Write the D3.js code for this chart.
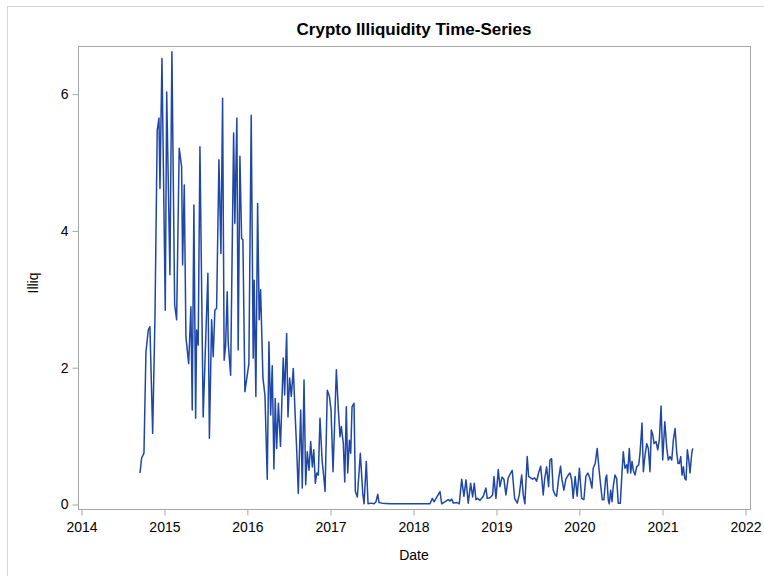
<!DOCTYPE html>
<html>
<head>
<meta charset="utf-8">
<script src="https://cdn.jsdelivr.net/npm/d3@7"></script>
<style>
  html, body { margin: 0; padding: 0; background: #ffffff; }
  svg { display: block; }
  text { font-family: "Liberation Sans", Arial, sans-serif; fill: #000; }
</style>
</head>
<body>
<svg id="chart" width="764" height="576"></svg>
<script>
// Observation dates as decimal years
const dateYears = [
  2014.705, 2014.725, 2014.753, 2014.777, 2014.805, 2014.825, 2014.858, 2014.886, 2014.913, 2014.934,
  2014.946, 2014.970, 2015.010, 2015.027, 2015.066, 2015.090, 2015.123, 2015.147, 2015.178, 2015.207,
  2015.219, 2015.239, 2015.259, 2015.292, 2015.319, 2015.335, 2015.355, 2015.376, 2015.388, 2015.407,
  2015.428, 2015.467, 2015.492, 2015.524, 2015.542, 2015.569, 2015.588, 2015.608, 2015.629, 2015.657,
  2015.681, 2015.701, 2015.720, 2015.737, 2015.757, 2015.769, 2015.798, 2015.834, 2015.849, 2015.873,
  2015.889, 2015.910, 2015.930, 2015.946, 2015.970, 2016.002, 2016.018, 2016.046, 2016.070, 2016.082,
  2016.102, 2016.123, 2016.142, 2016.159, 2016.187, 2016.211, 2016.239, 2016.259, 2016.280, 2016.299,
  2016.319, 2016.335, 2016.352, 2016.373, 2016.398, 2016.431, 2016.448, 2016.472, 2016.488, 2016.508,
  2016.528, 2016.552, 2016.572, 2016.593, 2016.612, 2016.641, 2016.660, 2016.681, 2016.701, 2016.720,
  2016.741, 2016.761, 2016.781, 2016.798, 2016.817, 2016.834, 2016.853, 2016.873, 2016.898, 2016.922,
  2016.934, 2016.961, 2016.986, 2017.006, 2017.030, 2017.070, 2017.094, 2017.114, 2017.130, 2017.154,
  2017.171, 2017.190, 2017.207, 2017.227, 2017.243, 2017.259, 2017.283, 2017.299, 2017.323, 2017.359,
  2017.388, 2017.404, 2017.431, 2017.452, 2017.488, 2017.524, 2017.548, 2017.569, 2017.584, 2017.620,
  2017.717, 2017.837, 2017.958, 2018.078, 2018.199,
  2018.227, 2018.247, 2018.319, 2018.340, 2018.419, 2018.440, 2018.460, 2018.480, 2018.520, 2018.552,
  2018.581, 2018.608, 2018.633, 2018.660, 2018.689, 2018.713, 2018.733, 2018.753, 2018.773, 2018.801,
  2018.841, 2018.873, 2018.889, 2018.922, 2018.954, 2018.970, 2018.994, 2019.022, 2019.042, 2019.066,
  2019.090, 2019.114, 2019.142, 2019.171, 2019.190, 2019.219, 2019.251, 2019.275, 2019.304, 2019.323,
  2019.343, 2019.371, 2019.388, 2019.412, 2019.436, 2019.460, 2019.484, 2019.508, 2019.533, 2019.548,
  2019.564, 2019.581, 2019.605, 2019.629, 2019.645, 2019.665, 2019.684, 2019.708, 2019.725, 2019.749,
  2019.773, 2019.789, 2019.813, 2019.837, 2019.865, 2019.886, 2019.906, 2019.925, 2019.949, 2019.973,
  2020.000, 2020.027, 2020.054, 2020.078, 2020.102, 2020.127, 2020.151, 2020.166, 2020.190, 2020.214,
  2020.235, 2020.255, 2020.275, 2020.295, 2020.316, 2020.328, 2020.347, 2020.359, 2020.376, 2020.392,
  2020.407, 2020.428, 2020.448, 2020.467, 2020.492, 2020.512, 2020.528, 2020.548, 2020.569, 2020.581,
  2020.600, 2020.617, 2020.633, 2020.648, 2020.669, 2020.689, 2020.713, 2020.729, 2020.753, 2020.769,
  2020.789, 2020.810, 2020.829, 2020.849, 2020.865, 2020.882, 2020.898, 2020.922, 2020.942, 2020.961,
  2020.982, 2021.002, 2021.027, 2021.051, 2021.070, 2021.090, 2021.111, 2021.130, 2021.151, 2021.171,
  2021.187, 2021.202, 2021.219, 2021.235, 2021.251, 2021.267, 2021.283, 2021.299, 2021.316, 2021.331,
  2021.352, 2021.364
];

// Illiquidity measure at each date
const illiq = [
  0.46, 0.68, 0.75, 2.23, 2.55, 2.60, 1.04, 2.75, 5.47, 5.65,
  4.62, 6.52, 2.84, 6.03, 3.36, 6.62, 2.92, 2.70, 5.21, 4.94,
  3.50, 4.67, 2.45, 2.06, 2.89, 1.38, 4.38, 1.26, 2.55, 2.33,
  5.23, 1.28, 2.21, 3.38, 0.97, 2.70, 2.16, 2.84, 2.87, 5.04,
  3.67, 5.94, 2.11, 2.31, 3.11, 2.36, 1.89, 5.43, 4.11, 5.65,
  2.26, 5.09, 3.89, 3.87, 1.65, 1.92, 2.06, 5.69, 2.14, 3.28,
  1.58, 4.40, 2.70, 3.14, 1.85, 1.60, 0.37, 2.38, 1.31, 2.03,
  0.52, 1.55, 0.82, 1.48, 0.85, 2.14, 1.60, 2.50, 1.28, 1.85,
  1.58, 1.99, 1.38, 0.80, 0.16, 1.38, 0.24, 1.82, 0.29, 0.77,
  0.50, 0.92, 0.55, 0.80, 0.31, 0.46, 0.43, 1.26, 0.65, 0.36,
  0.19, 1.67, 1.58, 1.38, 0.48, 1.97, 1.38, 0.99, 1.14, 0.89,
  0.33, 1.43, 0.46, 0.94, 0.75, 1.43, 1.48, 0.19, 0.11, 0.75,
  0.16, 0.01, 0.63, 0.01, 0.02, 0.01, 0.04, 0.15, 0.03, 0.02,
  0.01, 0.01, 0.01, 0.01, 0.01,
  0.09, 0.04, 0.19, 0.01, 0.07, 0.05, 0.08, 0.02, 0.03, 0.01,
  0.37, 0.12, 0.36, 0.02, 0.31, 0.11, 0.31, 0.07, 0.09, 0.06,
  0.12, 0.24, 0.09, 0.10, 0.14, 0.41, 0.09, 0.51, 0.26, 0.40,
  0.37, 0.14, 0.39, 0.46, 0.50, 0.09, 0.02, 0.14, 0.43, 0.14,
  0.01, 0.70, 0.41, 0.39, 0.37, 0.39, 0.34, 0.46, 0.56, 0.37,
  0.14, 0.37, 0.55, 0.26, 0.65, 0.67, 0.21, 0.14, 0.12, 0.37,
  0.56, 0.37, 0.21, 0.37, 0.43, 0.46, 0.37, 0.09, 0.41, 0.12,
  0.53, 0.09, 0.07, 0.41, 0.46, 0.38, 0.24, 0.53, 0.60, 0.82,
  0.53, 0.29, 0.07, 0.07, 0.38, 0.43, 0.07, 0.01, 0.21, 0.04,
  0.26, 0.43, 0.38, 0.02, 0.02, 0.46, 0.77, 0.53, 0.58, 0.46,
  0.82, 0.46, 0.63, 0.50, 0.43, 0.55, 0.58, 0.75, 1.19, 0.48,
  0.72, 0.89, 0.82, 0.48, 1.09, 1.02, 0.89, 0.92, 0.80, 0.94,
  1.44, 0.65, 1.21, 0.82, 0.65, 0.70, 0.65, 0.94, 1.11, 0.75,
  0.60, 0.60, 0.70, 0.43, 0.55, 0.38, 0.36, 0.80, 0.65, 0.46,
  0.75, 0.82
];

const xTickYears = [2014, 2015, 2016, 2017, 2018, 2019, 2020, 2021, 2022];
const yTickValues = [0, 2, 4, 6];

const titleText = "Crypto Illiquidity Time-Series";
const xLabel = "Date";
const yLabel = "Illiq";

function yearToDate(yf) {
  const y = Math.floor(yf);
  const start = new Date(y, 0, 1).getTime();
  const end = new Date(y + 1, 0, 1).getTime();
  return new Date(start + (yf - y) * (end - start));
}

const data = dateYears.map((d, i) => ({ date: yearToDate(d), value: illiq[i] }));

const svg = d3.select("#chart");

// outer graph border
svg.append("rect")
  .attr("x", 7.5).attr("y", 6.5)
  .attr("width", 800).attr("height", 600)
  .attr("fill", "none")
  .attr("stroke", "#d4d4d4")
  .attr("stroke-width", 1);

const frame = { left: 78, right: 750, top: 46, bottom: 509 };

const x = d3.scaleTime()
  .domain([new Date(2014, 0, 1), new Date(2022, 0, 1)])
  .range([81.5, 745.5]);

const y = d3.scaleLinear()
  .domain([0, 6])
  .range([504.5, 94.1]);

// plot frame
svg.append("rect")
  .attr("x", frame.left + 0.5).attr("y", frame.top + 0.5)
  .attr("width", frame.right - frame.left).attr("height", frame.bottom - frame.top)
  .attr("fill", "none")
  .attr("stroke", "#a6a6a6")
  .attr("stroke-width", 1);

// x axis
const xAxis = d3.axisBottom(x)
  .tickValues(xTickYears.map(yr => new Date(yr, 0, 1)))
  .tickFormat(d3.timeFormat("%Y"))
  .tickSizeOuter(0)
  .tickSizeInner(6)
  .tickPadding(7);

const gx = svg.append("g")
  .attr("transform", `translate(0,${frame.bottom + 0.5})`)
  .call(xAxis);
gx.select(".domain").remove();
gx.selectAll(".tick line").attr("stroke", "#a6a6a6");
gx.selectAll(".tick text")
  .style("font-family", '"Liberation Sans", Arial, sans-serif')
  .style("font-size", "14px")
  .attr("fill", "#1a1a1a");

// y axis
const yAxis = d3.axisLeft(y)
  .tickValues(yTickValues)
  .tickFormat(d3.format("d"))
  .tickSizeOuter(0)
  .tickSizeInner(6)
  .tickPadding(4);

const gy = svg.append("g")
  .attr("transform", `translate(${frame.left + 0.5},0)`)
  .call(yAxis);
gy.select(".domain").remove();
gy.selectAll(".tick line").attr("stroke", "#a6a6a6");
gy.selectAll(".tick text")
  .style("font-family", '"Liberation Sans", Arial, sans-serif')
  .style("font-size", "14px")
  .attr("fill", "#1a1a1a");

// series line
const line = d3.line()
  .x(d => x(d.date))
  .y(d => y(d.value));

svg.append("path")
  .datum(data)
  .attr("d", line)
  .attr("fill", "none")
  .attr("stroke", "#1f47a6")
  .attr("stroke-width", 1.5)
  .attr("stroke-linejoin", "round");

// title and axis labels
svg.append("text")
  .attr("x", 414).attr("y", 35)
  .attr("text-anchor", "middle")
  .style("font-size", "17px")
  .style("font-weight", "bold")
  .text(titleText);

svg.append("text")
  .attr("x", 414).attr("y", 560)
  .attr("text-anchor", "middle")
  .style("font-size", "14px")
  .attr("fill", "#1a1a1a")
  .text(xLabel);

svg.append("text")
  .attr("transform", "translate(38,283) rotate(-90)")
  .attr("text-anchor", "middle")
  .style("font-size", "14px")
  .attr("fill", "#1a1a1a")
  .text(yLabel);
</script>
</body>
</html>
